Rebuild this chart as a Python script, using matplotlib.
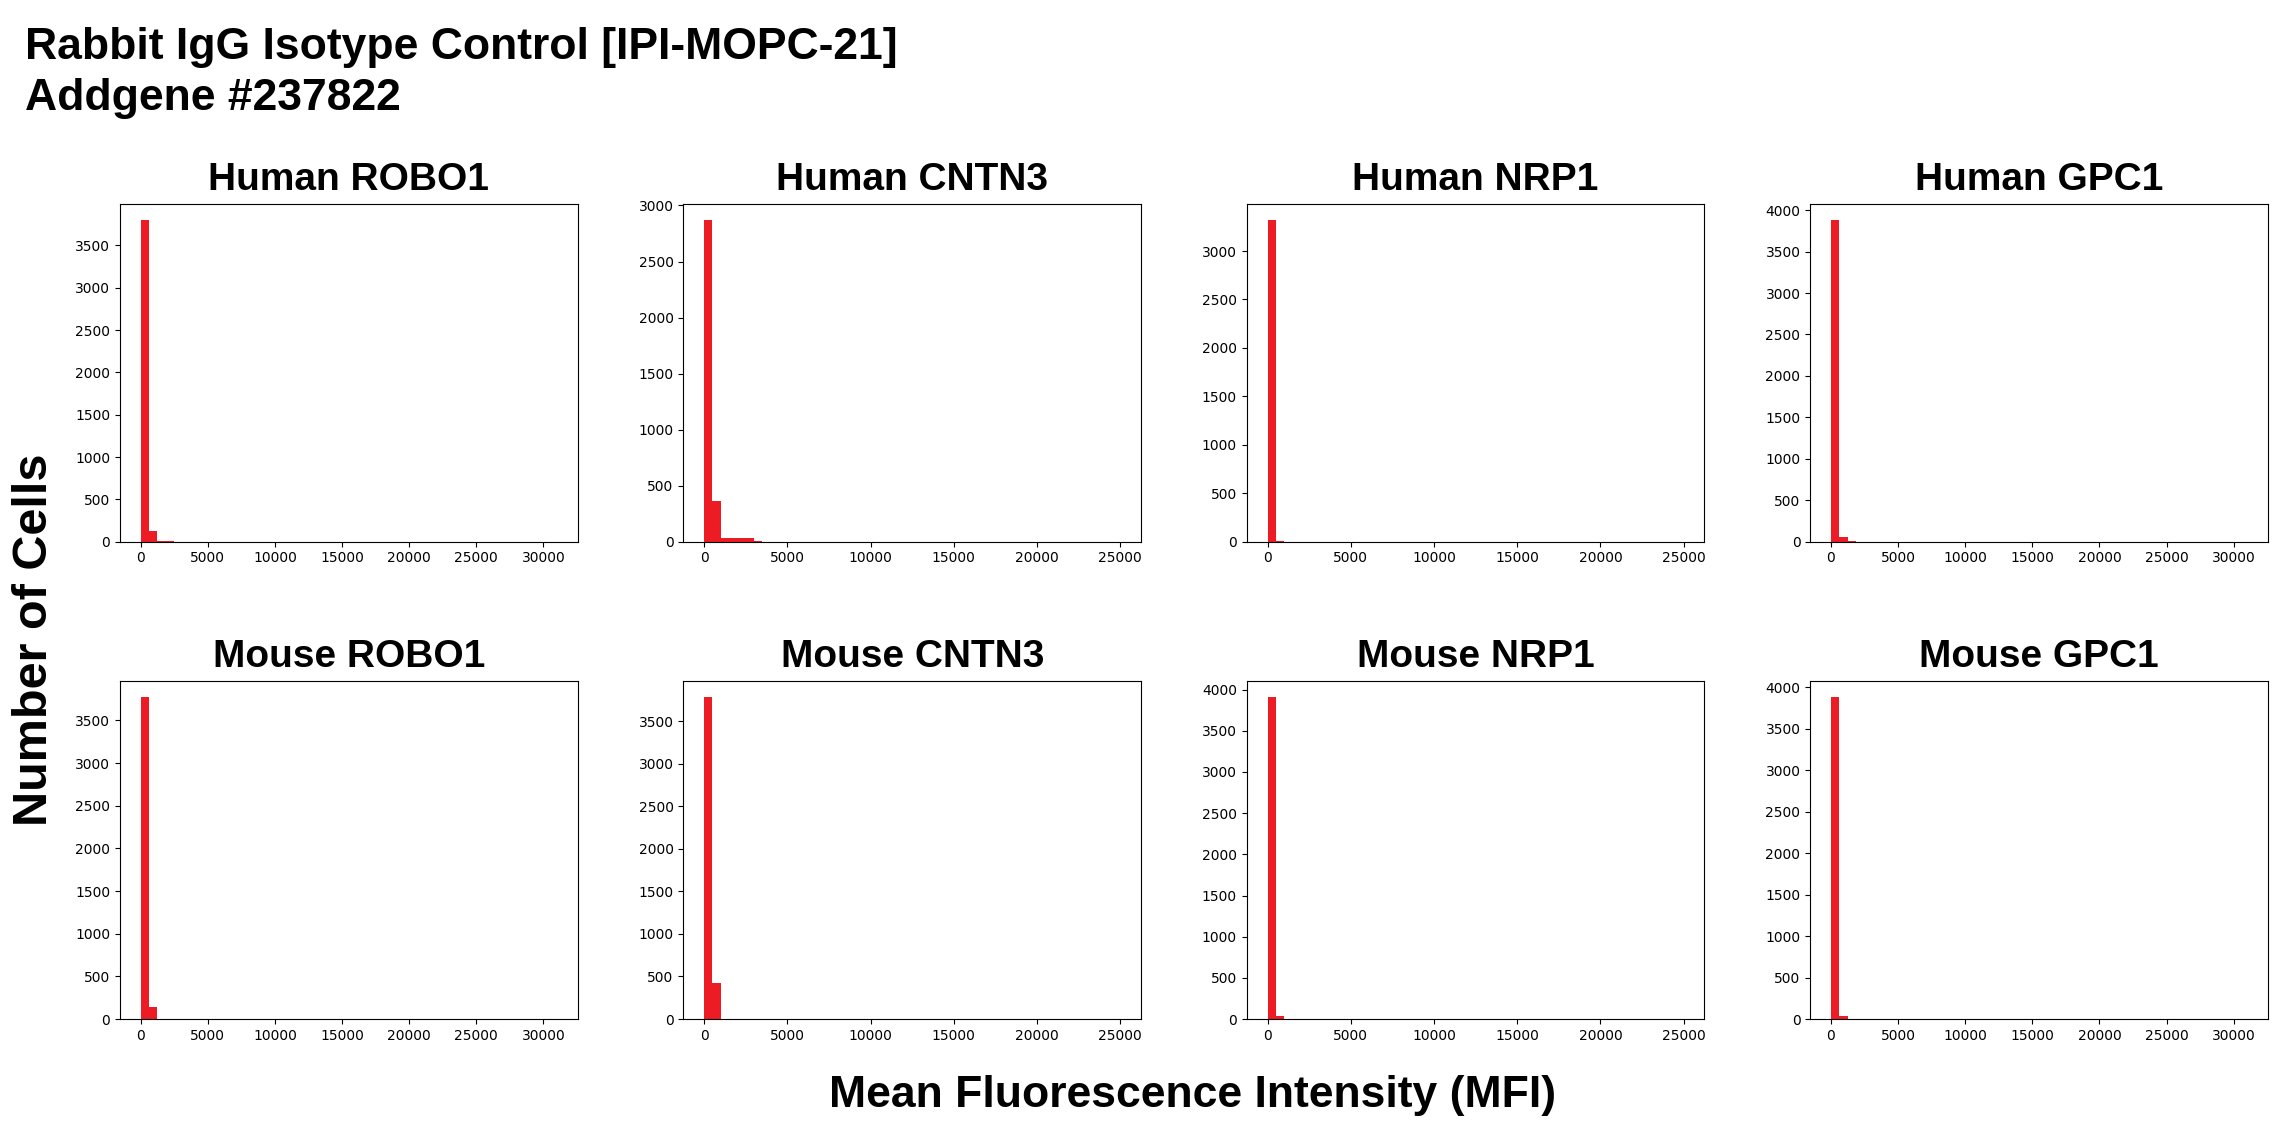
import numpy as np
import matplotlib
matplotlib.use("Agg")
import matplotlib.pyplot as plt

# panel titles, row by row
titles = ["Human ROBO1", "Human CNTN3", "Human NRP1", "Human GPC1",
          "Mouse ROBO1", "Mouse CNTN3", "Mouse NRP1", "Mouse GPC1"]

# MFI range of each sample (histograms use 50 equal bins over it)
mfi_max = [31000, 25000, 25000, 31000,
           31000, 25000, 25000, 31000]
n_bins = 50

# cell counts per bin, leading bins only (rest are empty)
human_robo1 = [3800, 130, 4, 3, 2, 1, 1, 1]
human_cntn3 = [2870, 363, 30, 30, 30, 30, 3, 2, 2, 1]
human_nrp1 = [3320, 6, 1, 1]
human_gpc1 = [3880, 52, 3, 2, 1]
mouse_robo1 = [3770, 136, 3, 2, 1, 1]
mouse_cntn3 = [3783, 425, 4, 3, 2, 1]
mouse_nrp1 = [3907, 35, 2, 1]
mouse_gpc1 = [3879, 42, 2, 1]

counts = [human_robo1, human_cntn3, human_nrp1, human_gpc1,
          mouse_robo1, mouse_cntn3, mouse_nrp1, mouse_gpc1]

red = "#ED1C24"
font = ["Liberation Sans", "DejaVu Sans"]

fig, axes = plt.subplots(2, 4, figsize=(22.85, 11.42), dpi=100)
fig.subplots_adjust(left=0.0525, right=0.9925, top=0.8214, bottom=0.1077,
                    wspace=0.231, hspace=0.413)

for ax, title, hi, c in zip(axes.flat, titles, mfi_max, counts):
    edges = np.linspace(0, hi, n_bins + 1)
    w = np.zeros(n_bins)
    w[:len(c)] = c
    ax.hist(edges[:-1], bins=edges, weights=w, color=red)
    ax.set_title(title, fontsize=28, family=font, fontweight="bold", pad=10)
    ax.tick_params(labelsize=10)

fig.text(0.011, 0.976, "Rabbit IgG Isotype Control [IPI-MOPC-21]\nAddgene #237822",
         ha="left", va="top", fontsize=32, family=font, fontweight="bold",
         linespacing=1.3)
fig.text(0.015, 0.44, "Number of Cells", rotation=90, ha="center", va="center",
         fontsize=35, family=font, fontweight="bold")
fig.text(0.5217, 0.041, "Mean Fluorescence Intensity (MFI)", ha="center", va="center",
         fontsize=32, family=font, fontweight="bold")

fig.savefig("out.png", dpi=100)
